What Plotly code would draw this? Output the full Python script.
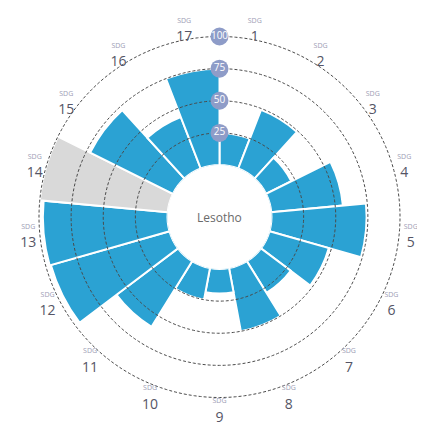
import numpy as np
import plotly.graph_objects as go

# ---- data ----
sdg_numbers = list(range(1, 18))
scores = [25, 49, 22, 56, 74, 48, 29, 50, 19, 25, 60, 96, 97, 100, 72, 43, 75]
no_data = [False] * 13 + [True] + [False] * 3   # SDG 14 shown in grey
radial_ticks = [25, 50, 75, 100]
country = "Lesotho"

n = len(sdg_numbers)
width = 360 / n
theta = [(i + 0.5) * width for i in range(n)]
colors = ["#d9d9d9" if nd else "#2ba2d3" for nd in no_data]

fig = go.Figure()
fig.add_trace(go.Barpolar(
    r=scores, theta=theta, width=[width] * n,
    marker=dict(color=colors, line=dict(color="white", width=2)),
    hoverinfo="skip", showlegend=False,
))

# dashed grid circles drawn above the bars
circ = np.linspace(0, 360, 361)
for v in radial_ticks:
    fig.add_trace(go.Scatterpolar(
        r=[v] * len(circ), theta=circ, mode="lines",
        line=dict(color="#4a4a4a", width=1, dash="3px,2px"),
        hoverinfo="skip", showlegend=False,
    ))

# radial tick badges
fig.add_trace(go.Scatterpolar(
    r=radial_ticks, theta=[0] * len(radial_ticks), mode="markers+text",
    marker=dict(size=18, color="#8e9cc8"),
    text=[str(v) for v in radial_ticks], textposition="middle center",
    textfont=dict(color="white", size=10, family="Open Sans"),
    hoverinfo="skip", showlegend=False,
))

# SDG labels placed on a ring outside the 100 circle
label_r = 109
label_text = [f"<span style='font-size:7px;color:#9c9cb4'>SDG</span><br>{k}" for k in sdg_numbers]
fig.add_trace(go.Scatterpolar(
    r=[label_r] * n, theta=theta, mode="text", text=label_text,
    textposition="middle center", cliponaxis=False,
    textfont=dict(size=14, color="#555566", family="Open Sans"),
    hoverinfo="skip", showlegend=False,
))

W, H = 417, 419   # page body has an 8px margin
cx, cy = 211.5, 209
r0, r100 = 52.0, 180.5          # pixel radius of value 0 and 100
rmax = 119
scale = (r100 - r0) / 100
Ro = r0 + rmax * scale

fig.update_layout(
    width=W, height=H,
    margin=dict(l=0, r=0, t=0, b=0),
    paper_bgcolor="white",
    font=dict(family="Open Sans", color="#555566"),
    polar=dict(
        domain=dict(x=[(cx - Ro) / W, (cx + Ro) / W],
                    y=[1 - (cy + Ro) / H, 1 - (cy - Ro) / H]),
        hole=r0 / Ro,
        bgcolor="white",
        radialaxis=dict(range=[0, rmax], showticklabels=False, showgrid=False,
                        showline=False, ticks=""),
        angularaxis=dict(rotation=90, direction="clockwise", showgrid=False,
                         showline=False, ticks="", showticklabels=False),
    ),
    annotations=[dict(text=country, x=cx / W, y=1 - cy / H,
                      xref="paper", yref="paper", showarrow=False,
                      font=dict(size=12, color="#6a6a6a", family="Open Sans"))],
)

fig.write_html("out.html")
